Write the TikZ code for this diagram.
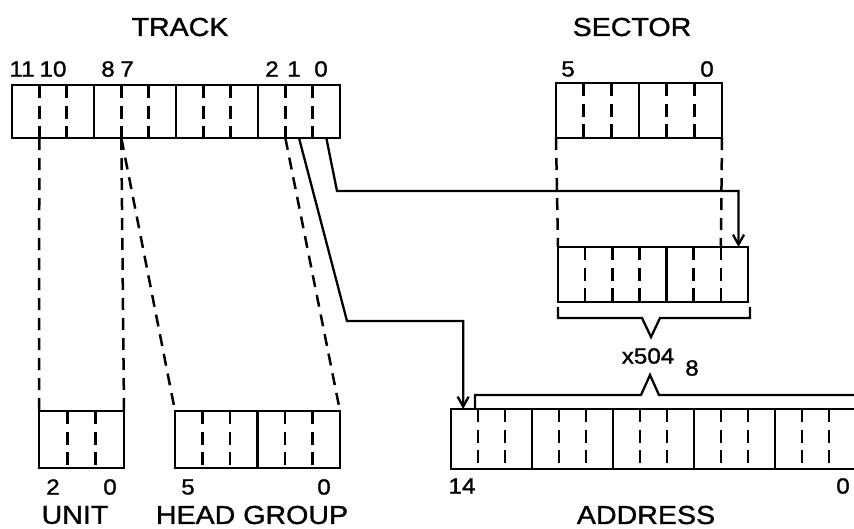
\documentclass[tikz,border=0pt]{standalone}
\usepackage{fontspec}
\setmainfont{Liberation Sans}[FakeStretch=1.1, FakeBold=1.2]
\usetikzlibrary{calc,arrows.meta}
\newcommand{\mysolid}[3]{\foreach \i in {#3} \draw[solidcell] ($(#1.north west)!{\i/#2}!(#1.north east)$) -- ($(#1.south west)!{\i/#2}!(#1.south east)$);}
\newcommand{\mydash}[3]{\foreach \i in {#3} \draw[dashcell] ($(#1.north west)!{\i/#2}!(#1.north east)$) -- ($(#1.south west)!{\i/#2}!(#1.south east)$);}
\begin{document}
\begin{tikzpicture}[x=1pt,y=-1pt,
  reg/.style={draw, line width=2.8pt, rectangle, inner sep=0pt, outer sep=0pt, anchor=north west},
  solidcell/.style={line width=2.5pt},
  dashcell/.style={line width=2.5pt, dash pattern=on 13pt off 7.5pt},
  link/.style={line width=2.5pt, dash pattern=on 12pt off 8pt},
  wire/.style={line width=2.3pt, line join=miter},
  arr/.style={wire, -{Straight Barb[length=10pt,width=11pt,line width=2.3pt]}},
  title/.style={inner sep=0pt, font=\fontsize{26}{26}\selectfont},
  num/.style={inner sep=0pt, font=\fontsize{22}{22}\selectfont},
  brace/.style={line width=2.3pt, line join=miter}
]
\useasboundingbox (0,0) rectangle (854,528);
\clip (0,0) rectangle (854,528);

% registers
\node[reg, minimum width=328pt, minimum height=53pt] (track) at (12,85) {};
\node[reg, minimum width=166pt, minimum height=55pt] (sector) at (556,83) {};
\node[reg, minimum width=190pt, minimum height=55pt] (sectb) at (558,247) {};
\node[reg, minimum width=85pt, minimum height=57pt] (unit) at (39,411) {};
\node[reg, minimum width=165pt, minimum height=57pt] (head) at (175,411) {};
\node[reg, minimum width=405pt, minimum height=60pt] (addr) at (451,409) {};

\mysolid{track}{12}{3,6,9}
\mydash{track}{12}{1,2,4,5,7,8,10,11}
\mysolid{sector}{6}{3}
\mydash{sector}{6}{1,2,4,5}
\mysolid{sectb}{7}{4}
\mydash{sectb}{7}{1,2,3,5,6}
\mydash{unit}{3}{1,2}
\mysolid{head}{6}{3}
\mydash{head}{6}{1,2,4,5}
\mysolid{addr}{15}{3,6,9,12}
\mydash{addr}{15}{1,2,4,5,7,8,10,11,13,14}

% dashed field links
\draw[link] ($(track.south west)!{1/12}!(track.south east)$) -- (unit.north west);
\draw[link] ($(track.south west)!{4/12}!(track.south east)$) -- (unit.north east);
\draw[link] ($(track.south west)!{4/12}!(track.south east)$) -- (head.north west);
\draw[link] ($(track.south west)!{10/12}!(track.south east)$) -- (head.north east);
\draw[link] (sector.south west) -- (sectb.north west);
\draw[link] (sector.south east) -- ($(sectb.north west)!{6/7}!(sectb.north east)$);

% bit wires
\coordinate (b0) at ($(track.south west)!{11.5/12}!(track.south east)$);
\coordinate (b0k) at (337,191);
\coordinate (s0) at ($(sectb.north west)!{6.65/7}!(sectb.north east)$);
\draw[arr] (b0) -- (b0k) -- (b0k -| s0) -- (s0);
\coordinate (b1) at ($(track.south west)!{10.5/12}!(track.south east)$);
\coordinate (b1k) at (347,321);
\coordinate (a14) at ($(addr.north west)!{0.45/15}!(addr.north east)$);
\draw[arr] (b1) -- (b1k) -- (b1k -| a14) -- (a14);

% braces
\draw[brace] ($(sectb.south west)+(0,5)$) -- ++(0,11) -- (642,318) -- (651,337) -- (660,318) -- ($(sectb.south east)+(2,16)$) -- ++(0,-11);
\draw[brace] ($(addr.north west)+(24,0)$) -- ++(0,-14) -- (641,395) -- (650,375) -- (659,395) -- (860,395);

% titles
\node[title] (ttrack) at (180,27) {TRACK};
\node[title] (tsector) at (632,27) {SECTOR};
\node[title] (tunit) at (75,515) {UNIT};
\node[title] (thead) at (252,515) {HEAD GROUP};
\node[title] (taddr) at (646,515) {ADDRESS};

% bit numbers
\node[num] (n11) at (22,69) {11};
\node[num] (n10) at (53,69) {10};
\node[num] (n8) at (108,69) {8};
\node[num] (n7) at (127,69) {7};
\node[num] (n2) at (272,69) {2};
\node[num] (n1) at (294,69) {1};
\node[num] (n0) at (321,69) {0};
\node[num] (s5) at (568,69) {5};
\node[num] (s0t) at (707,69) {0};
\node[num] (u2) at (53,487) {2};
\node[num] (u0) at (110,487) {0};
\node[num] (h5) at (188,487) {5};
\node[num] (h0) at (324,487) {0};
\node[num] (a14t) at (462,486) {14};
\node[num] (a0t) at (843,486) {0};
\node[num] (mult) at (648,356) {x504};
\node[num] (base) at (692,368) {8};
\end{tikzpicture}
\end{document}
